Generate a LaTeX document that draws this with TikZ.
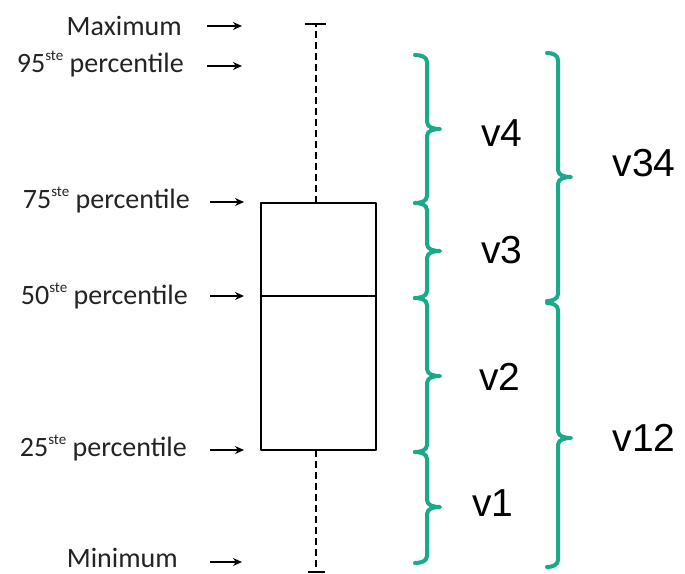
\documentclass[tikz,border=0pt]{standalone}
\usepackage{fontspec}
\setmainfont{Carlito}
\newfontfamily\arialf{Liberation Sans}
\usetikzlibrary{arrows.meta}
\definecolor{bracec}{RGB}{26,170,138}
\definecolor{txtg}{RGB}{35,35,35}
\newcommand\stesup{\raisebox{0.4em}{\fontsize{15}{15}\selectfont ste}}
\newcommand\bracepath[5]{%
  \draw[brc] (#1-#5,#2) to[out=0,in=90] (#1,#2+7) -- (#1,#3-7)
    to[out=-90,in=180] (#1+13,#3) to[out=180,in=90] (#1,#3+7)
    -- (#1,#4-7) to[out=-90,in=0] (#1-#5,#4);}
\begin{document}
\begin{tikzpicture}[x=1pt,y=-1pt,
  lbl/.style={anchor=base east,inner sep=0pt,font=\fontsize{28}{28}\selectfont,text=txtg},
  vlbl/.style={inner sep=0pt,font=\arialf\fontsize{39}{39}\selectfont},
  ptr/.style={line width=1.5pt,-{Stealth[length=9pt,width=8pt]}},
  boxl/.style={line width=2.3pt,line join=round},
  whisk/.style={line width=2.5pt,dash pattern=on 7pt off 4pt},
  brc/.style={draw=bracec,line width=4pt,line cap=round,line join=round}]
\useasboundingbox (0,0) rectangle (685,573);
% left labels
\node[lbl] (lmax) at (182,35) {Maximum};
\node[lbl] (l95) at (184,72) {95\stesup{} percentile};
\node[lbl] (l75) at (190,208) {75\stesup{} percentile};
\node[lbl] (l50) at (188,304) {50\stesup{} percentile};
\node[lbl] (l25) at (187,456) {25\stesup{} percentile};
\node[lbl] (lmin) at (178,567) {Minimum};
% arrow coordinates
\coordinate (amax0) at (207,26);  \coordinate (amax1) at (242,26);
\coordinate (a950) at (207,66);   \coordinate (a951) at (242,66);
\coordinate (a750) at (210,202);  \coordinate (a751) at (244,202);
\coordinate (a500) at (210,296);  \coordinate (a501) at (244,296);
\coordinate (a250) at (210,450);  \coordinate (a251) at (244,450);
\coordinate (amin0) at (210,562); \coordinate (amin1) at (242,562);
\draw[ptr] (amax0) -- (amax1);
\draw[ptr] (a950) -- (a951);
\draw[ptr] (a750) -- (a751);
\draw[ptr] (a500) -- (a501);
\draw[ptr] (a250) -- (a251);
\draw[ptr] (amin0) -- (amin1);
% box plot
\coordinate (bxtl) at (261,203);
\coordinate (bxbr) at (376,450);
\coordinate (medl) at (261,296);
\coordinate (medr) at (376,296);
\coordinate (wtop) at (316,24);
\coordinate (wtb) at (316,203);
\coordinate (wbb) at (316,450);
\coordinate (wbot) at (316,572);
\draw[whisk] (wtb) -- (wtop);
\draw[whisk] (wbb) -- (wbot);
\draw[line width=2.5pt] (305,24) -- (326,24);
\draw[line width=2.5pt] (308,572) -- (325,572);
\draw[boxl] (bxtl) rectangle (bxbr);
\draw[line width=1.8pt] (medl) -- (medr);
% braces
\bracepath{427}{55}{129}{203}{12}
\bracepath{427}{203}{251}{298}{12}
\bracepath{427}{298}{376}{452}{12}
\bracepath{427}{452}{507}{563}{12}
\bracepath{558}{53}{177}{301}{11}
\bracepath{558}{303}{438}{567}{11}
% brace labels
\node[vlbl] (v4) at (502,133) {v4};
\node[vlbl] (v3) at (502,250) {v3};
\node[vlbl] (v2) at (500,377) {v2};
\node[vlbl] (v1) at (493,503) {v1};
\node[vlbl] (v34) at (644,163) {v34};
\node[vlbl] (v12) at (644,438) {v12};
\end{tikzpicture}
\end{document}
